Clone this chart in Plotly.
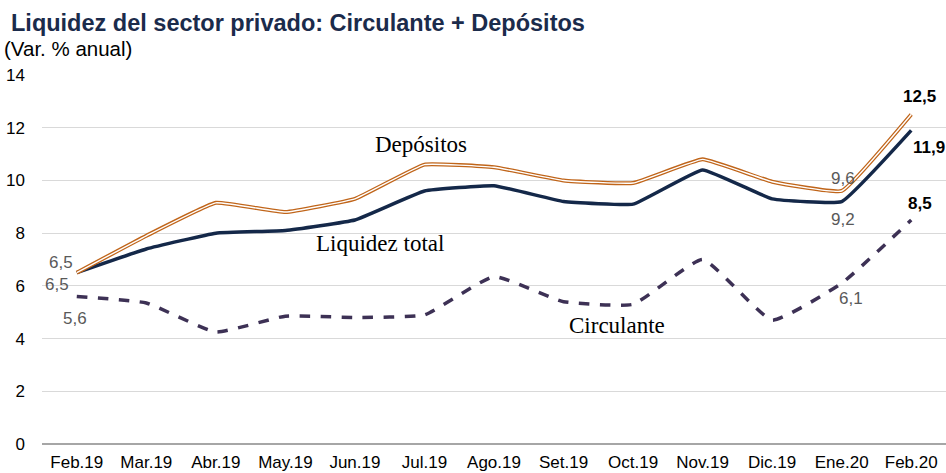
import plotly.graph_objects as go

months = ["Feb.19", "Mar.19", "Abr.19", "May.19", "Jun.19", "Jul.19", "Ago.19",
          "Set.19", "Oct.19", "Nov.19", "Dic.19", "Ene.20", "Feb.20"]
depositos = [6.5, 7.9, 9.15, 8.8, 9.3, 10.6, 10.5, 10.0, 9.9, 10.8, 9.95, 9.6, 12.5]
liquidez = [6.5, 7.4, 8.0, 8.1, 8.5, 9.6, 9.8, 9.2, 9.1, 10.4, 9.3, 9.2, 11.9]
circulante = [5.6, 5.35, 4.25, 4.85, 4.8, 4.9, 6.35, 5.4, 5.3, 7.0, 4.7, 6.1, 8.5]
y_ticks = [0, 2, 4, 6, 8, 10, 12, 14]

ORANGE = "#C0651A"
NAVY = "#142849"
PURPLE = "#3D3155"
GRAY = "#595959"

fig = go.Figure()
fig.add_trace(go.Scatter(x=months, y=circulante, mode="lines",
                         line=dict(color=PURPLE, width=3.5, dash="dash", shape="spline", smoothing=0.4),
                         hoverinfo="skip", showlegend=False))
fig.add_trace(go.Scatter(x=months, y=liquidez, mode="lines",
                         line=dict(color=NAVY, width=3.5, shape="spline", smoothing=0.3),
                         hoverinfo="skip", showlegend=False))
fig.add_trace(go.Scatter(x=months, y=depositos, mode="lines",
                         line=dict(color=ORANGE, width=4, shape="spline", smoothing=0.3),
                         hoverinfo="skip", showlegend=False))
fig.add_trace(go.Scatter(x=months, y=depositos, mode="lines",
                         line=dict(color="white", width=1.4, shape="spline", smoothing=0.3),
                         hoverinfo="skip", showlegend=False))

def fmt(v):
    return f"{v:.1f}".replace(".", ",")

ann = []
# Feb.19 labels
ann.append(dict(x=months[0], y=depositos[0], text=fmt(depositos[0]), xshift=-16, yshift=10,
                font=dict(color=GRAY, size=17)))
ann.append(dict(x=months[0], y=liquidez[0], text=fmt(liquidez[0]), xshift=-20, yshift=-12,
                font=dict(color=GRAY, size=17)))
ann.append(dict(x=months[0], y=circulante[0], text=fmt(circulante[0]), xshift=-2, yshift=-22,
                font=dict(color=GRAY, size=17)))
# Ene.20 labels
ann.append(dict(x=months[11], y=depositos[11], text=fmt(depositos[11]), xshift=1, yshift=12,
                font=dict(color=GRAY, size=17)))
ann.append(dict(x=months[11], y=liquidez[11], text=fmt(liquidez[11]), xshift=1, yshift=-18,
                font=dict(color=GRAY, size=17)))
ann.append(dict(x=months[11], y=circulante[11], text=fmt(circulante[11]), xshift=9, yshift=-15,
                font=dict(color=GRAY, size=17)))
# Feb.20 bold labels
ann.append(dict(x=months[12], y=depositos[12], text="<b>" + fmt(depositos[12]) + "</b>", xshift=8, yshift=18,
                font=dict(color="black", size=17)))
ann.append(dict(x=months[12], y=liquidez[12], text="<b>" + fmt(liquidez[12]) + "</b>", xshift=18, yshift=-17,
                font=dict(color="black", size=17)))
ann.append(dict(x=months[12], y=circulante[12], text="<b>" + fmt(circulante[12]) + "</b>", xshift=9, yshift=16,
                font=dict(color="black", size=17)))
for a in ann:
    a.update(showarrow=False, xref="x", yref="y", font_family="Liberation Sans, Arial")

# Series name labels
SERIF = "Liberation Serif, DejaVu Serif, serif"
ann.append(dict(x=months[5], y=depositos[5], text="Depósitos", xshift=-3, yshift=20,
                showarrow=False, font=dict(family=SERIF, size=23, color="black")))
ann.append(dict(x=months[4], y=liquidez[4], text="Liquidez total", xshift=25, yshift=-24,
                showarrow=False, font=dict(family=SERIF, size=23, color="black")))
ann.append(dict(x=months[8], y=circulante[8], text="Circulante", xshift=-16, yshift=-21,
                showarrow=False, font=dict(family=SERIF, size=23, color="black")))

# Title
ann.append(dict(xref="paper", yref="paper", x=-0.036, y=1.14, xanchor="left", yanchor="middle",
                text="<b>Liquidez del sector privado: Circulante + Depósitos</b>", showarrow=False,
                font=dict(family="Liberation Sans, Arial", size=23.5, color="#1B2B4B")))
ann.append(dict(xref="paper", yref="paper", x=-0.044, y=1.072, xanchor="left", yanchor="middle",
                text="(Var. % anual)", showarrow=False,
                font=dict(family="Liberation Sans, Arial", size=20.5, color="black")))

fig.update_layout(
    width=946, height=473,
    margin=dict(l=42, r=0, t=75, b=29),
    plot_bgcolor="white", paper_bgcolor="white",
    font=dict(family="Liberation Sans, Arial", size=17, color="black"),
    annotations=ann,
    showlegend=False,
)
fig.update_xaxes(type="category", range=[-0.5, 12.5], showgrid=False, showline=False,
                 ticks="", tickfont=dict(size=17, color="black"), zeroline=False,
                 ticklabelstandoff=6)
fig.update_yaxes(range=[0, 14], tickvals=y_ticks, showgrid=True, gridcolor="#D9D9D9", gridwidth=1,
                 zeroline=True, zerolinecolor="#A6A6A6", zerolinewidth=1.5,
                 ticks="", tickfont=dict(size=17, color="black"), ticklabelstandoff=16)

fig.write_html("out.html")
